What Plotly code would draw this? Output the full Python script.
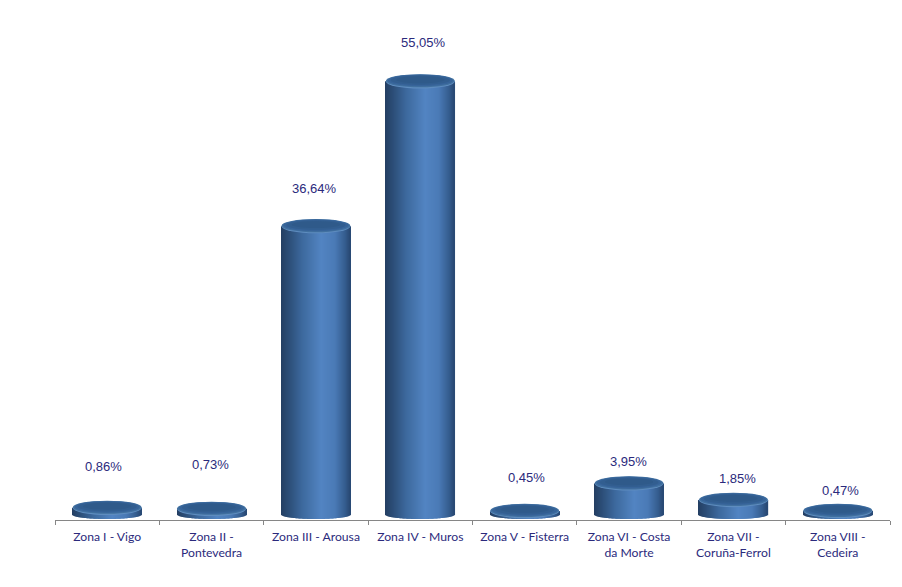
import plotly.graph_objects as go
import numpy as np

categories = ["Zona I - Vigo", "Zona II -<br>Pontevedra", "Zona III - Arousa", "Zona IV - Muros",
              "Zona V - Fisterra", "Zona VI - Costa<br>da Morte", "Zona VII -<br>Coruña-Ferrol", "Zona VIII -<br>Cedeira"]
values = [0.86, 0.73, 36.64, 55.05, 0.45, 3.95, 1.85, 0.47]
value_labels = ["0,86%", "0,73%", "36,64%", "55,05%", "0,45%", "3,95%", "1,85%", "0,47%"]

# style / layout constants
W, H = 902, 587
L, R, T, AXIS_Y = 55, 890.5, 20, 520
BASE_Y = 514.5
PX_PER_UNIT = 7.87
CAT_W = (R - L) / 8
BAR_PX = 69
CAP_RY = 7
BASE_RY = 4.5
LABEL_GAP = [41, 44, 38, 39, 33, 22, 21, 20]
LABEL_DX = [-3.5, -1.5, -1.5, 3, 1.5, -1, 4.5, 3]
N = 69

ymin = -(AXIS_Y - BASE_Y) / PX_PER_UNIT
ymax = (BASE_Y - T) / PX_PER_UNIT

stops = [(0.0, (36, 62, 98)), (0.12, (44, 78, 120)), (0.30, (60, 104, 156)), (0.58, (82, 132, 194)),
         (0.78, (74, 122, 182)), (0.93, (52, 92, 142)), (1.0, (40, 72, 114))]
pos = [s[0] for s in stops]


def shade(t):
    return "rgb(%d,%d,%d)" % tuple(int(round(np.interp(t, pos, [s[1][i] for s in stops]))) for i in range(3))


fig = go.Figure()
bar_w = BAR_PX / CAT_W
strip = bar_w / N
for k in range(N):
    t = (k + 0.5) / N
    u = 2 * t - 1
    drop = BASE_RY * np.sqrt(max(0, 1 - u * u)) / PX_PER_UNIT
    fig.add_trace(go.Bar(
        x=categories,
        y=[v + drop for v in values],
        base=[-drop] * len(values),
        width=strip * 1.25,
        offset=-bar_w / 2 + k * strip,
        marker=dict(color=shade(t), line=dict(width=0)),
        hoverinfo="skip",
        showlegend=False,
    ))


def cap(i, v, x_half, up, ry, color):
    fig.add_shape(type="circle", xref="x", yref="y", xsizemode="scaled", ysizemode="pixel",
                  x0=i - x_half, x1=i + x_half, yanchor=v, y0=-ry + up, y1=ry + up,
                  fillcolor=color, line=dict(width=0), layer="above")


for i, v in enumerate(values):
    half = bar_w / 2
    cap(i, v, half, -0.2, CAP_RY, "#5E8CBF")
    cap(i, v, half * 0.995, 0.5, CAP_RY - 0.4, "#41709F")
    cap(i, v, half * 0.94, 0.8, CAP_RY - 1.2, "#37649A")
    cap(i, v, half * 0.86, 1.1, CAP_RY - 2.2, "#325E90")
    cap(i, v, half * 0.70, 1.5, CAP_RY - 3.6, "#2F5A8A")
    fig.add_annotation(x=i, y=v, yref="y", xref="x", text=value_labels[i], showarrow=False,
                       yshift=LABEL_GAP[i], xshift=LABEL_DX[i],
                       font=dict(family="Liberation Sans", size=13, color="#2B2A7C"))

fig.update_layout(
    width=W, height=H, autosize=False,
    margin=dict(l=L, r=W - R, t=T, b=H - AXIS_Y, pad=0),
    paper_bgcolor="white", plot_bgcolor="white",
    barmode="overlay", showlegend=False,
    xaxis=dict(type="category", range=[-0.5, 7.5], tickson="boundaries", ticks="outside", ticklen=4,
               tickwidth=1, tickcolor="#868686", showline=True, linecolor="#868686", linewidth=1,
               showgrid=False, zeroline=False, tickangle=0, ticklabelstandoff=5,
               tickfont=dict(family="Lato", size=12.2, color="#2B2A7C")),
    yaxis=dict(range=[ymin, ymax], visible=False, showgrid=False, zeroline=False),
)
fig.write_html("out.html", config={"displayModeBar": False},
               post_script="document.body.style.margin='0';")
